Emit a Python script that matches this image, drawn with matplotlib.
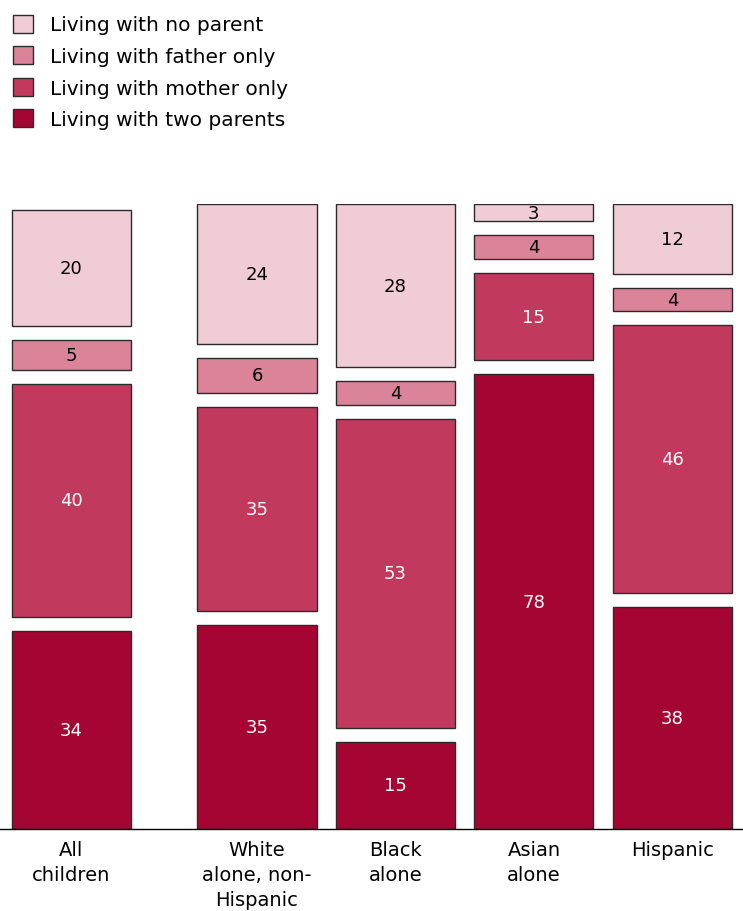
import matplotlib.pyplot as plt
from matplotlib.patches import Patch
import numpy as np

# groups and shares (percent) of children by living arrangement
groups = ['All\nchildren', 'White\nalone, non-\nHispanic', 'Black\nalone', 'Asian\nalone', 'Hispanic']
two_parents = [34, 35, 15, 78, 38]
mother_only = [40, 35, 53, 15, 46]
father_only = [5, 6, 4, 4, 4]
no_parent = [20, 24, 28, 3, 12]

series = [
    ('Living with two parents', two_parents, '#a50533', 'white'),
    ('Living with mother only', mother_only, '#c13a5e', 'white'),
    ('Living with father only', father_only, '#da8399', 'black'),
    ('Living with no parent', no_parent, '#f0ccd7', 'black'),
]

plt.rcParams['font.family'] = ['DejaVu Sans']

x = np.array([0, 1.34, 2.34, 3.34, 4.34])
gap = 2.4
width = 0.86

fig = plt.figure(figsize=(7.43, 9.12), dpi=100)
ax = fig.add_axes([0, 82 / 912, 1, 625 / 912])

bottom = np.zeros(len(groups))
for name, vals, color, tcolor in series:
    vals = np.array(vals, dtype=float)
    ax.bar(x, vals, width=width, bottom=bottom, color=color,
           edgecolor='#2b2b2b', linewidth=1, label=name)
    for xi, b, v in zip(x, bottom, vals):
        ax.text(xi, b + v / 2, f'{int(v)}', ha='center', va='center',
                color=tcolor, fontsize=13)
    bottom = bottom + vals + gap

ax.set_xlim(-0.516, 4.85)
ax.set_ylim(0, 107.2)
ax.set_xticks(x)
ax.set_xticklabels(groups, fontsize=14, linespacing=1.38)
ax.tick_params(axis='x', length=0, pad=8)
ax.set_yticks([])
for s in ['top', 'left', 'right']:
    ax.spines[s].set_visible(False)
ax.spines['bottom'].set_linewidth(1)

handles = [Patch(facecolor=c, edgecolor='#2b2b2b', label=n) for n, _, c, _ in series[::-1]]
fig.legend(handles=handles, loc='upper left', bbox_to_anchor=(0.0175, 0.983),
           frameon=False, fontsize=14.5, handlelength=1.0, handleheight=1.0,
           labelspacing=0.58, handletextpad=0.85, borderaxespad=0, borderpad=0)

fig.savefig('out.png', dpi=100)
